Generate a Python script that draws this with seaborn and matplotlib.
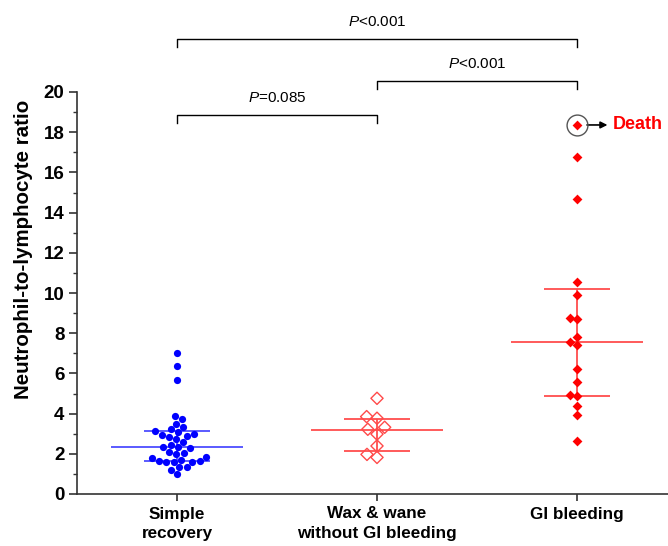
import matplotlib
matplotlib.use("Agg")
import matplotlib.pyplot as plt
import seaborn as sns
import pandas as pd
import numpy as np
from matplotlib.ticker import FixedLocator

categories = ["Simple\nrecovery", "Wax & wane\nwithout GI bleeding", "GI bleeding"]

simple_recovery = [7.03, 6.35, 5.67, 3.88, 3.71, 3.47, 3.32, 3.22, 3.12, 3.07, 2.98, 2.90,
                   2.92, 2.85, 2.72, 2.59, 2.45, 2.32, 2.27, 2.32, 2.09, 2.05, 1.97, 1.78,
                   1.86, 1.64, 1.58, 1.61, 1.58, 1.64, 1.69, 1.34, 1.36, 1.19, 1.00]
wax_wane = [4.76, 3.77, 3.85, 3.32, 3.22, 2.98, 2.39, 1.82, 1.97]
gi_bleeding = [18.36, 16.78, 14.66, 10.55, 9.88, 8.71, 8.76, 7.81, 7.55, 7.41, 6.24, 5.56,
               4.93, 4.88, 4.38, 3.93, 2.62]

medians = [2.32, 3.20, 7.55]
q1 = [1.64, 2.15, 4.89]
q3 = [3.12, 3.72, 10.21]

comparisons = [(0, 2, "<0.001"), (1, 2, "<0.001"), (0, 1, "=0.085")]
bracket_y = [22.64, 20.56, 18.86]

plt.rcParams['font.family'] = ['Liberation Sans', 'DejaVu Sans']
plt.rcParams['mathtext.fontset'] = 'custom'
plt.rcParams['mathtext.it'] = 'Liberation Sans:italic'
plt.rcParams['mathtext.rm'] = 'Liberation Sans'

df = pd.DataFrame({
    "group": [categories[0]] * len(simple_recovery) + [categories[1]] * len(wax_wane)
             + [categories[2]] * len(gi_bleeding),
    "nlr": simple_recovery + wax_wane + gi_bleeding,
})

fig = plt.figure(figsize=(6.68, 5.46), dpi=100)
ax = fig.add_axes([77 / 668, 52 / 546, (668 - 77) / 668, 494 / 546])

sns.swarmplot(data=df[df.group == categories[0]], x="group", y="nlr", order=categories,
              color="#0000FF", marker="o", size=5.2, linewidth=0, ax=ax, zorder=3)
n_before = len(ax.collections)
sns.swarmplot(data=df[df.group == categories[1]], x="group", y="nlr", order=categories,
              color="#FF4A4A", marker="D", size=6.2, linewidth=1.0, ax=ax, zorder=3)
for coll in ax.collections[n_before:]:
    coll.set_facecolor("none")
    coll.set_edgecolor("#FF4A4A")
    coll.set_linewidth(1.0)
sns.swarmplot(data=df[df.group == categories[2]], x="group", y="nlr", order=categories,
              color="#FF0000", marker="D", size=5.0, linewidth=0, ax=ax, zorder=3)

line_colors = ["#4D4DFF", "#FF4D4D", "#FF4D4D"]
for i in range(3):
    ax.hlines(medians[i], i - 0.33, i + 0.33, color=line_colors[i], lw=1.3, zorder=2)
    ax.hlines([q1[i], q3[i]], i - 0.167, i + 0.167, color=line_colors[i], lw=1.3, zorder=2)
    ax.vlines(i, q1[i], q3[i], color=line_colors[i], lw=1.3, zorder=2)

# significance brackets
for (a, b, txt), yb in zip(comparisons, bracket_y):
    ax.plot([a, a, b, b], [yb - 0.42, yb, yb, yb - 0.42], color="black", lw=1.0,
            clip_on=False)
    ax.text((a + b) / 2, yb + 0.5, r"$\it{P}$" + txt, ha="center", va="bottom",
            fontsize=11, clip_on=False)

# death annotation
death_val = max(gi_bleeding)
ax.plot([2], [death_val], marker="o", markersize=15, markerfacecolor="none",
        markeredgecolor="#555555", markeredgewidth=1.0, zorder=4)
ax.annotate("Death", xy=(2.05, death_val), xytext=(2.18, death_val),
            ha="left", va="center", color="#FF0000", fontsize=13, fontweight="bold",
            arrowprops=dict(arrowstyle="<|-", color="black", lw=1.2,
                            shrinkA=2, shrinkB=0, mutation_scale=10))

ax.set_xlim(-0.5, 2.455)
ax.set_ylim(0, 494 / 20.1)
ax.spines["top"].set_visible(False)
ax.spines["right"].set_visible(False)
ax.spines["left"].set_bounds(0, 20)
for s in ("left", "bottom"):
    ax.spines[s].set_color("#333333")
    ax.spines[s].set_linewidth(1.2)

ax.set_yticks(np.arange(0, 21, 2))
ax.yaxis.set_minor_locator(FixedLocator(np.arange(1, 20, 2)))
ax.tick_params(axis="y", which="major", length=6, width=1.2, color="#333333",
               labelsize=13.5, pad=3)
ax.tick_params(axis="y", which="minor", length=3, width=1.0, color="#333333")
ax.tick_params(axis="x", which="major", length=5, width=1.2, color="#333333",
               labelsize=12.3, pad=4)
for lab in ax.get_yticklabels():
    lab.set_fontweight("bold")
for lab in ax.get_xticklabels():
    lab.set_fontweight("bold")
    lab.set_linespacing(1.35)
ax.set_xlabel("")
ax.set_ylabel("Neutrophil-to-lymphocyte ratio", fontsize=14.8, fontweight="bold")
ax.yaxis.set_label_coords((33 - 77) / 591, (494 - 249) / 494)

fig.savefig("out.png", dpi=100)
